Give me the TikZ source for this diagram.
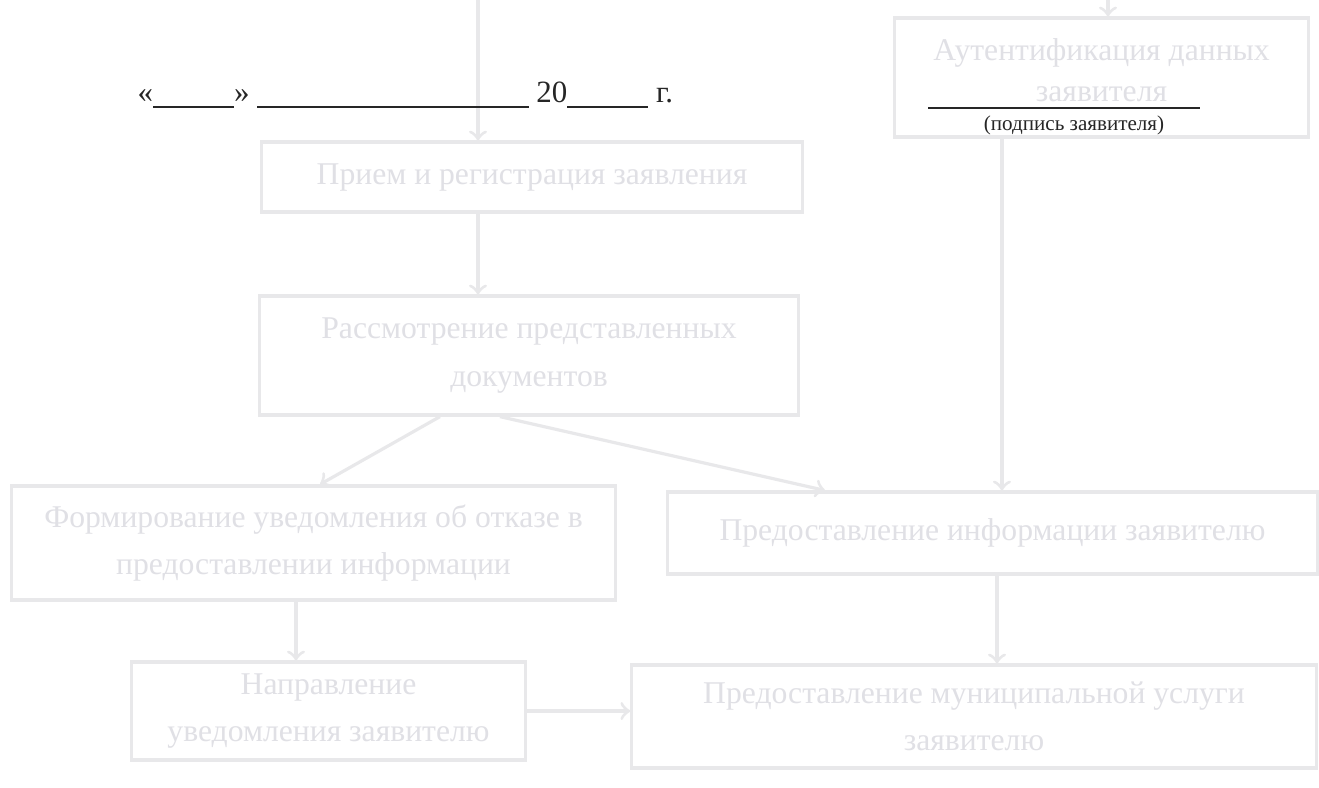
\documentclass[tikz,border=0pt]{standalone}
\usepackage{fontspec}
\setmainfont{Liberation Serif}
\definecolor{paleline}{RGB}{232,232,234}
\definecolor{paletext}{RGB}{224,224,229}
\definecolor{ink}{RGB}{38,38,38}
\begin{document}
\begin{tikzpicture}[x=0.01cm,y=-0.01cm,
  box/.style={draw=paleline, line width=0.9pt, text=paletext, align=center, inner sep=0pt,
    font=\fontsize{9}{13.4}\selectfont},
  link/.style={draw=paleline, line width=0.9pt, ->}]

  \useasboundingbox (0,0) rectangle (1319,787);
  \fill[white] (0,0) rectangle (1319,787);

  \foreach \name/\xa/\ya/\xb/\yb/\txt in {
      priem/262/142/802/212/{Прием и регистрация заявления},
      rassm/260/296/798/415/{Рассмотрение представленных\\документов},
      form/12/486/615/600/{Формирование уведомления об отказе в\\предоставлении информации},
      predinf/668/492/1317/574/{Предоставление информации заявителю},
      naprav/132/662/525/760/{Направление\\уведомления заявителю},
      preduslug/632/665/1316/768/{Предоставление муниципальной услуги\\заявителю}}
  {
    \pgfmathsetmacro\w{(\xb-\xa)/100}
    \pgfmathsetmacro\h{(\yb-\ya)/100}
    \node (\name) [box, minimum width=\w cm, minimum height=\h cm] at ({(\xa+\xb)/2},{(\ya+\yb)/2}) {\txt};
  }
  \node (auth) [box, minimum width=4.13cm, minimum height=1.19cm, text depth=0.15cm,
    font=\fontsize{9}{11.5}\selectfont] at (1101.5,77.5) {Аутентификация данных\\заявителя};

  \coordinate (intop) at (478,0);
  \coordinate (authtop) at (1108,0);
  \draw[link] (intop) -- (intop |- priem.north);
  \draw[link] (authtop) -- (authtop |- auth.north);
  \draw[link] (intop |- priem.south) -- (intop |- rassm.north);
  \draw[link] ([xshift=-0.89cm]rassm.south) -- ([xshift=0.065cm]form.north);
  \draw[link] ([xshift=-0.29cm]rassm.south) -- ([xshift=-1.675cm]predinf.north);
  \draw[link] ([xshift=-0.995cm]auth.south) coordinate (authout) -- (authout |- predinf.north);
  \draw[link] ([xshift=0.045cm]predinf.south) coordinate (infout) -- (infout |- preduslug.north);
  \draw[link] ([xshift=-0.175cm]form.south) coordinate (formout) -- (formout |- naprav.north);
  \draw[link] (naprav.east) -- (naprav.east -| preduslug.west);

  \node (date) [anchor=base west, inner sep=0pt, text=ink, font=\fontsize{8.8}{10}\selectfont] at (137,102)
    {«\rule[-1.6pt]{0.81cm}{0.45pt}» \rule[-1.6pt]{2.71cm}{0.45pt} 20\rule[-1.6pt]{0.81cm}{0.45pt} г.};
  \draw[ink, line width=0.5pt] (928,108) -- (1200,108);
  \node (sign) [inner sep=0pt, text=ink, font=\fontsize{6}{7}\selectfont] at (1074,125) {(подпись заявителя)};

\end{tikzpicture}
\end{document}
